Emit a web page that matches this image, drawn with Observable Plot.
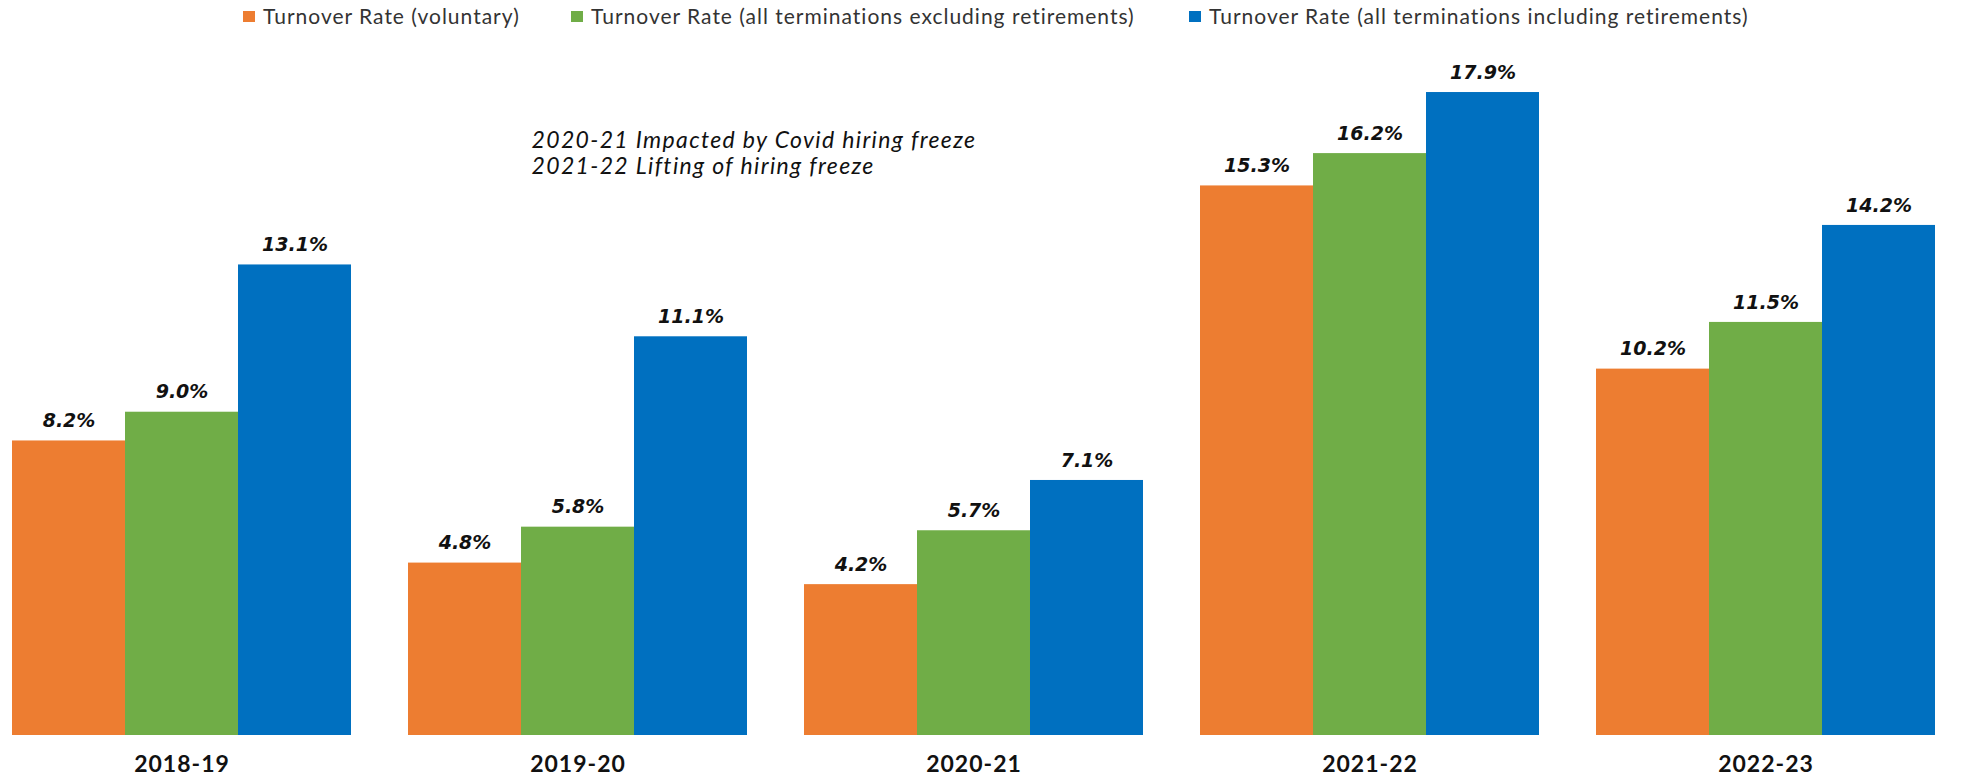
<!DOCTYPE html>
<html>
<head>
<meta charset="utf-8">
<script src="https://cdn.jsdelivr.net/npm/d3@7"></script>
<script src="https://cdn.jsdelivr.net/npm/@observablehq/plot@0.6"></script>
<style>
  html, body { margin: 0; padding: 0; background: #fff; }
  #legend { height: 32px; line-height: 32px; font-family: Lato, sans-serif; font-size: 21px; letter-spacing: 1px; color: #333; position: relative; width: 1967px; }
  #legend .item { position: absolute; top: 0; white-space: nowrap; }
  #legend .sw { display: inline-block; width: 12px; height: 11px; margin-right: 8px; vertical-align: middle; position: relative; top: -2px; }
  .fxlab text { font-family: Lato, sans-serif; font-weight: bold; font-size: 23px; letter-spacing: 1px; fill: #111; }
  .annot text { letter-spacing: 1.35px; }
</style>
</head>
<body>
<div id="legend"></div>
<div id="chart"></div>
<script>
const years = ["2018-19", "2019-20", "2020-21", "2021-22", "2022-23"];
const seriesNames = [
  "Turnover Rate (voluntary)",
  "Turnover Rate (all terminations excluding retirements)",
  "Turnover Rate (all terminations including retirements)"
];
const voluntary = [8.2, 4.8, 4.2, 15.3, 10.2];
const excludingRetirements = [9.0, 5.8, 5.7, 16.2, 11.5];
const includingRetirements = [13.1, 11.1, 7.1, 17.9, 14.2];
const colors = ["#ED7D31", "#70AD47", "#0070C0"];
const annotationLines = ["2020-21 Impacted by Covid hiring freeze", "2021-22 Lifting of hiring freeze"];

const seriesValues = [voluntary, excludingRetirements, includingRetirements];
const data = [];
years.forEach((y, i) => seriesNames.forEach((s, j) => data.push({year: y, series: s, value: seriesValues[j][i]})));

// legend
const legendLeft = [243, 571, 1189];
const legend = document.getElementById("legend");
seriesNames.forEach((s, j) => {
  const it = document.createElement("span");
  it.className = "item";
  it.style.left = legendLeft[j] + "px";
  it.innerHTML = `<span class="sw" style="background:${colors[j]}"></span>${s}`;
  legend.appendChild(it);
});

const pxPerPct = 35.92;
const svgH = 746, mB = 43, mT = 0;
const yMax = (svgH - mB - mT) / pxPerPct;

const chart = Plot.plot({
  width: 1967,
  height: svgH,
  marginTop: mT,
  marginBottom: mB,
  marginLeft: 10,
  marginRight: 29,
  fx: {domain: years, paddingInner: 0.143, paddingOuter: 0, label: null},
  x: {domain: seriesNames, paddingInner: 0, paddingOuter: 0, axis: null},
  y: {domain: [0, yMax], axis: null},
  color: {domain: seriesNames, range: colors},
  marks: [
    Plot.barY(data, {fx: "year", x: "series", y: "value", fill: "series"}),
    Plot.text(data, {
      fx: "year", x: "series", y: "value",
      text: d => d.value.toFixed(1) + "%",
      dy: -20, lineAnchor: "middle",
      fontFamily: "DejaVu Sans", fontWeight: "bold", fontStyle: "italic", fontSize: 19, fill: "#111"
    }),
    Plot.text([annotationLines.join("\n")], {
      fx: () => years[1],
      frameAnchor: "top-left", dx: 123, dy: 120.5,
      lineAnchor: "middle", lineHeight: 1.13,
      fontFamily: "Lato", fontStyle: "italic", fontSize: 23, fill: "#111",
      className: "annot"
    }),
    Plot.axisFx({anchor: "bottom", tickSize: 0, tickPadding: 20, label: null, className: "fxlab"})
  ]
});
document.getElementById("chart").appendChild(chart);
</script>
</body>
</html>
